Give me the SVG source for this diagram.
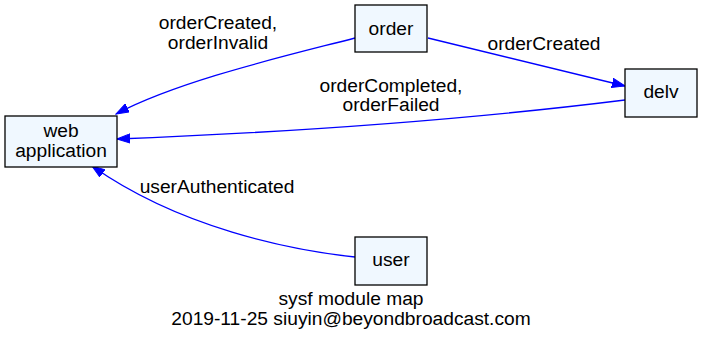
<svg xmlns="http://www.w3.org/2000/svg" width="703" height="341" viewBox="0 0 703 341">
  <style>
    .node rect { fill: #f0f8ff; stroke: #000; stroke-width: 1.3; }
    text { font-family: "Liberation Sans", Arial, sans-serif; font-size: 19.2px; fill: #000; text-anchor: middle; }
    .edge { fill: none; stroke: #0000ff; stroke-width: 1.3; marker-end: url(#arrow); }
  </style>
  <defs>
    <marker id="arrow" markerUnits="userSpaceOnUse" markerWidth="14" markerHeight="10" refX="13" refY="5" orient="auto">
      <path d="M0,0.4 L13,5 L0,9.6 Z" fill="#0000ff" stroke="#0000ff" stroke-width="1"/>
    </marker>
  </defs>

  <rect width="703" height="341" fill="#fff"/>

  <g id="connectors">
    <path class="edge" d="M355,38 C290,55 180,80 116,114"/>
    <path class="edge" d="M428,38 L625,86"/>
    <path class="edge" d="M625,100 Q400,128 117,139"/>
    <path class="edge" d="M355,257 C290,250 180,228 92,166"/>
    <text x="218" y="29">orderCreated,</text>
    <text x="218" y="49">orderInvalid</text>
    <text x="544" y="50">orderCreated</text>
    <text x="391" y="92">orderCompleted,</text>
    <text x="391" y="111">orderFailed</text>
    <text x="217" y="193">userAuthenticated</text>
  </g>

  <g id="web" class="node">
    <rect x="5" y="116" width="112" height="51"/>
    <text x="61" y="137">web</text>
    <text x="61" y="157">application</text>
  </g>
  <g id="order" class="node">
    <rect x="355" y="5" width="72" height="47"/>
    <text x="391" y="35">order</text>
  </g>
  <g id="delv" class="node">
    <rect x="625" y="69" width="72" height="48"/>
    <text x="661" y="98">delv</text>
  </g>
  <g id="user" class="node">
    <rect x="355" y="237" width="72" height="48"/>
    <text x="391" y="266">user</text>
  </g>

  <g id="title">
    <text x="351" y="305">sysf module map</text>
    <text x="351" y="325">2019-11-25 siuyin@beyondbroadcast.com</text>
  </g>
</svg>
